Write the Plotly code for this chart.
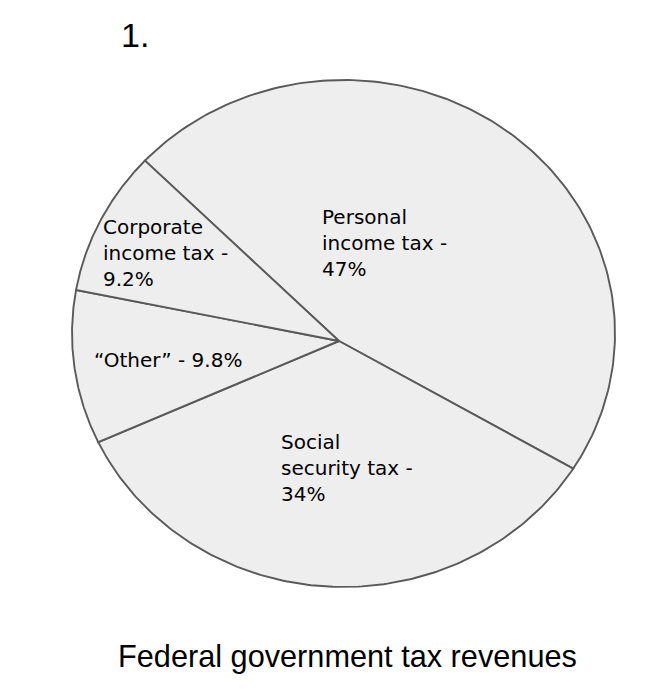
import numpy as np
import plotly.graph_objects as go

labels = ["Personal<br>income tax -", "Social<br>security tax -", "“Other” - ", "Corporate<br>income tax -"]
values = [47, 34, 9.8, 9.2]
value_text = ["<br>47%", "<br>34%", "9.8%", "<br>9.2%"]
title_text = "Federal government tax revenues"
number_text = "1."

W, H = 670, 698
cx, cy, a, b = 343.5, 333.5, 271.5, 253.5  # ellipse geometry in pixels
hub_dx, hub_dy = -4.5 / a, -7.5 / b        # hub slightly off-centre, as drawn

fig = go.Figure()
start = 137.0
total = sum(values)
theta0 = start
for lab, v in zip(labels, values):
    span = v / total * 360.0
    th = np.radians(np.linspace(theta0, theta0 - span, 160))
    xs = np.concatenate([[hub_dx], np.cos(th), [hub_dx]])
    ys = np.concatenate([[hub_dy], np.sin(th), [hub_dy]])
    fig.add_trace(go.Scatter(x=xs, y=ys, mode="lines", fill="toself",
                             fillcolor="#eeeeee",
                             line=dict(color="#5a5a5a", width=1.9),
                             hoverinfo="skip", showlegend=False))
    theta0 -= span

label_font = dict(family="DejaVu Sans", size=20, color="#000000")
label_pos = [(320, 243), (279, 468), (92, 360), (101, 253)]
for lab, vt, (px, py) in zip(labels, value_text, label_pos):
    fig.add_annotation(x=px / W, y=1 - py / H, xref="paper", yref="paper",
                       text=lab + vt, showarrow=False, xanchor="left", yanchor="middle",
                       align="left", font=label_font)

fig.add_annotation(x=347.5 / W, y=1 - 656 / H, xref="paper", yref="paper", text=title_text,
                   showarrow=False, xanchor="center", yanchor="middle",
                   font=dict(family="Liberation Sans, Arial", size=30.7, color="#000000"))
fig.add_annotation(x=119 / W, y=1 - 35 / H, xref="paper", yref="paper", text=number_text,
                   showarrow=False, xanchor="left", yanchor="middle",
                   font=dict(family="Liberation Sans, Arial", size=34, color="#000000"))

fig.update_layout(
    width=W, height=H, margin=dict(l=0, r=0, t=0, b=0),
    paper_bgcolor="white", plot_bgcolor="white",
    xaxis=dict(range=[-cx / a, (W - cx) / a], visible=False, fixedrange=True),
    yaxis=dict(range=[(cy - H) / b, cy / b], visible=False, fixedrange=True),
)
fig.write_html("out.html")
